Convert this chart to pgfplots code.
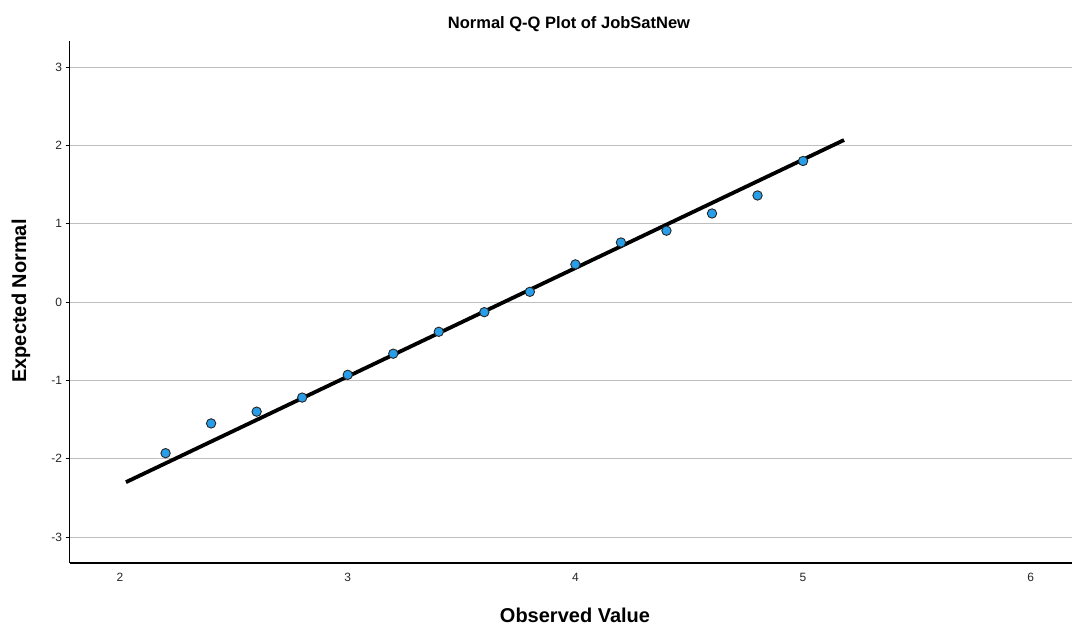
\documentclass[border=0pt]{standalone}
\usepackage{pgfplots}
\pgfplotsset{compat=1.18}
\usepackage{fontspec}
\setmainfont{Liberation Sans}
\definecolor{ptblue}{RGB}{41,158,232}
\definecolor{gridgray}{RGB}{190,190,190}
\begin{document}
\begin{tikzpicture}[x=1pt,y=1pt]
\useasboundingbox (0,0) rectangle (1072,626);
\begin{axis}[
  at={(69.5pt,63pt)}, anchor=south west,
  scale only axis, width=1002.5pt, height=522pt,
  xmin=1.778, xmax=6.181, ymin=-3.332, ymax=3.332,
  axis x line=bottom, axis y line=left,
  axis line style={-, black, line width=1.2pt},
  xtick={2,3,4,5,6}, ytick={-3,-2,-1,0,1,2,3},
  xtick style={draw=none},
  ytick style={black, line width=0.8pt},
  tick align=outside, major tick length=4pt,
  ymajorgrids, major grid style={gridgray, line width=0.9pt},
  tick label style={font=\fontsize{12}{13}\selectfont, text=black!85},
  /pgf/number format/assume math mode=true,
  yticklabel style={xshift=0pt},
  xticklabel style={yshift=-3pt},
  clip=false,
]
\addplot[only marks, mark=*, mark size=4.7pt,
  mark options={fill=ptblue, draw=black!85, line width=0.9pt}]
coordinates {
(2.2,-1.93) (2.4,-1.55) (2.6,-1.40) (2.8,-1.22) (3.0,-0.93)
(3.2,-0.66) (3.4,-0.38) (3.6,-0.13) (3.8,0.13) (4.0,0.48)
(4.2,0.76) (4.4,0.91) (4.6,1.13) (4.8,1.36) (5.0,1.80)
};
\addplot[black, line width=3.8pt, line cap=butt] coordinates {(2.026,-2.30) (5.18,2.068)};
\end{axis}
\node[font=\fontsize{16.5}{18}\selectfont\bfseries] at (569,602) {Normal Q-Q Plot of JobSatNew};
\node[font=\fontsize{20}{22}\selectfont\bfseries] at (575,11) {Observed Value};
\node[font=\fontsize{20}{22}\selectfont\bfseries, rotate=90] at (21,325) {Expected Normal};
\end{tikzpicture}
\end{document}
